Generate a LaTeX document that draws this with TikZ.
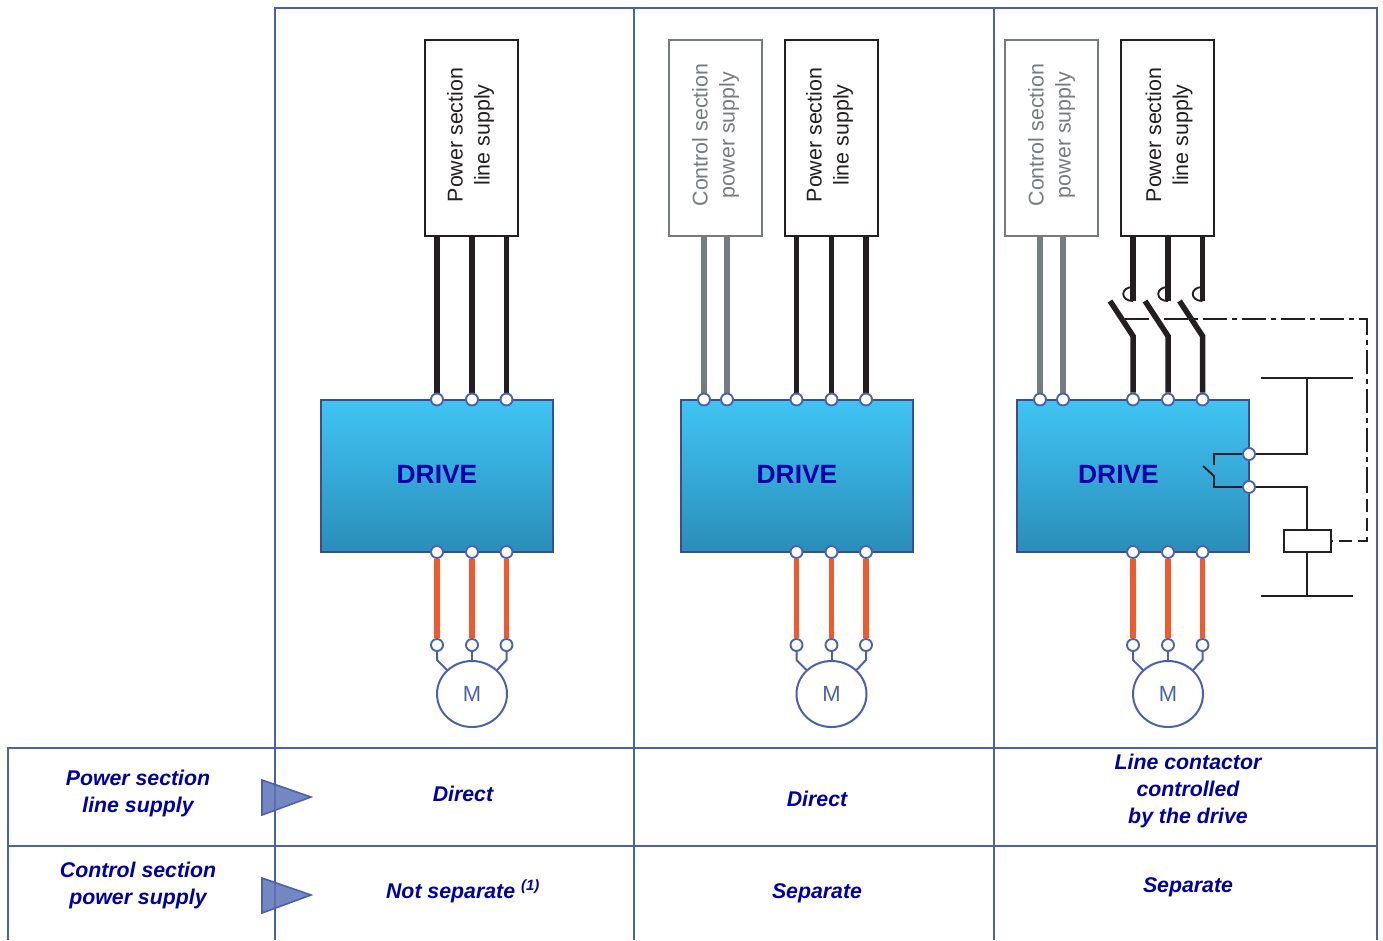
\documentclass[tikz,border=0pt]{standalone}
\usepackage{fontspec}
\setmainfont{Liberation Sans}
\usetikzlibrary{backgrounds,calc,shapes.geometric}
\definecolor{gridblue}{HTML}{4A62AE}
\definecolor{labelblue}{HTML}{0000A8}
\definecolor{wiregray}{HTML}{767C7E}
\definecolor{wireblack}{HTML}{231F20}
\definecolor{wireorange}{HTML}{F05A2E}
\definecolor{drivetop}{HTML}{40C4F4}
\definecolor{drivebottom}{HTML}{2A8EB9}
\tikzset{
	tableline/.style={draw=gridblue,line width=2.1pt},
	marker/.style={draw=gridblue,line width=1.6pt,fill=gridblue!90,fill opacity=.85},
	rowlabel/.style={text=labelblue,align=center,font=\fontsize{21.3}{27}\selectfont\bfseries\itshape},
	supplybox/.style={draw=wireblack,line width=2pt,minimum width=93,minimum height=196,inner sep=0,fill=white},
	graybox/.style={supplybox,draw=wiregray},
	supplytext/.style={rotate=90,align=center,text=wireblack,font=\fontsize{21.4}{27}\selectfont},
	graytext/.style={supplytext,text=wiregray},
	drivebox/.style={draw=gridblue!80!black,line width=2pt,minimum width=232,minimum height=152,inner sep=0,top color=drivetop,bottom color=drivebottom},
	drivetext/.style={text=labelblue,font=\fontsize{26.4}{30}\selectfont\bfseries},
	terminal/.style={circle,draw=gridblue,line width=1.9pt,fill=white,minimum size=12,inner sep=0},
	motor/.style={ellipse,draw=gridblue,line width=2pt,minimum width=70,minimum height=66,inner sep=0,text=gridblue,font=\fontsize{22}{24}\selectfont},
	blackwire/.style={draw=wireblack,line width=5.5pt},
	graywire/.style={draw=wiregray,line width=5.5pt},
	orangewire/.style={draw=wireorange,line width=5.5pt},
	motorlead/.style={draw=gridblue,line width=2pt},
	thinwire/.style={draw=wireblack,line width=1.9pt},
	coil/.style={draw=wireblack,line width=2pt,minimum width=47,minimum height=22,inner sep=0,fill=white},
}
\begin{document}
\begin{tikzpicture}[x=1pt,y=-1pt]
	\useasboundingbox (0,0) rectangle (1383,940);
	% table
	\draw[tableline] (275,940) -- (275,8) -- (1377,8) -- (1377,940);
	\draw[tableline] (634,8) -- (634,940);
	\draw[tableline] (994,8) -- (994,940);
	\draw[tableline] (8,940) -- (8,748) -- (1377,748);
	\draw[tableline] (8,846) -- (1377,846);
	\draw[marker] (262,780) -- (311,797) -- (262,815) -- cycle;
	\draw[marker] (262,878) -- (311,895) -- (262,913) -- cycle;
	\node[rowlabel] (rowpower) at (138,793) {Power section\\line supply};
	\node[rowlabel] (rowcontrol) at (138,885) {Control section\\power supply};
	\node[rowlabel] (direct1) at (463,794) {Direct};
	\node[rowlabel] (direct2) at (817,799) {Direct};
	\node[rowlabel] (contactor) at (1188,791) {Line contactor\\controlled\\by the drive};
	\node[rowlabel] (notseparate) at (463,891.5) {Not separate\,\textsuperscript{\,(1)}};
	\node[rowlabel] (separate2) at (817,893.5) {Separate};
	\node[rowlabel] (separate3) at (1188,887.5) {Separate};
	% supplies
	\node[supplybox] (supply1) at (471.5,138) {};
	\node[supplybox] (supply2) at (831.5,138) {};
	\node[supplybox] (supply3) at (1167.5,138) {};
	\node[graybox] (control2) at (715.5,138) {};
	\node[graybox] (control3) at (1051.5,138) {};
	\node[supplytext] (supplytext1) at (470.5,135) {Power section\\line supply};
	\node[supplytext] (supplytext2) at (829.5,135) {Power section\\line supply};
	\node[supplytext] (supplytext3) at (1169,135) {Power section\\line supply};
	\node[graytext] (controltext2) at (715.5,135) {Control section\\power supply};
	\node[graytext] (controltext3) at (1051.5,135) {Control section\\power supply};
	% drive, motor and wires of each column
	\foreach \c/\mx/\tx in {1/472/437,2/831.5/797,3/1168/1118.5}{
		\node[drivebox] (drive\c) at (\mx-35,476) {};
		\node[drivetext] (drivelabel\c) at (\tx,474) {DRIVE};
		\node[motor] (motor\c) at (\mx,694) {M};
		\foreach \t/\dx in {a/-35,b/0,c/34.5}{
			\node[terminal] (top\c\t) at (\mx+\dx,399.5) {};
			\node[terminal] (bottom\c\t) at (\mx+\dx,552) {};
			\node[terminal] (lead\c\t) at (\mx+\dx,645) {};
			\begin{scope}[on background layer]
				\draw[orangewire] (bottom\c\t) -- (lead\c\t);
			\end{scope}
		}
		\draw[motorlead] (lead\c b) -- (motor\c);
		\draw[motorlead] (lead\c a) -- ++(0,15) -- (\mx-25,670);
		\draw[motorlead] (lead\c c) -- ++(0,15) -- (\mx+25,670);
	}
	\foreach \c in {1,2}{
		\foreach \t in {a,b,c}{
			\begin{scope}[on background layer]
				\draw[blackwire] (supply\c.south -| top\c\t) -- (top\c\t);
			\end{scope}
		}
	}
	% control supply
	\foreach \c/\ax/\bx in {2/704/727,3/1040/1063}{
		\node[terminal] (ctrl\c a) at (\ax,399.5) {};
		\node[terminal] (ctrl\c b) at (\bx,399.5) {};
		\begin{scope}[on background layer]
			\draw[graywire] (control\c.south -| ctrl\c a) -- (ctrl\c a);
			\draw[graywire] (control\c.south -| ctrl\c b) -- (ctrl\c b);
		\end{scope}
	}
	% line contactor
	\foreach \t in {a,b,c}{
		\coordinate (fix\t) at (top3\t |- 0,301);
		\coordinate (knee\t) at (top3\t |- 0,336);
		\begin{scope}[on background layer]
			\draw[blackwire] (supply3.south -| top3\t) -- (fix\t);
			\draw[blackwire] (top3\t) -- (knee\t) -- ($(knee\t)+(-23,-35)$);
		\end{scope}
		\draw[thinwire] (fix\t) ++(0,-14) .. controls +(-13,0) and +(-13,0) .. (fix\t);
	}
	% relay
	\node[terminal] (contact1) at (1249,454) {};
	\node[terminal] (contact2) at (1249,487) {};
	\node[coil] (relay) at (1307.5,541) {};
	\coordinate (busup) at (1307,378);
	\coordinate (busdown) at (1307,596);
	\draw[thinwire] (1261,378) -- (1353,378);
	\draw[thinwire] (1261,596) -- (1353,596);
	\draw[thinwire] (contact1) -- (busup |- contact1) -- (busup);
	\draw[thinwire] (contact2) -- (busup |- contact2) -- (busup |- relay.north);
	\draw[thinwire] (busdown |- relay.south) -- (busdown);
	\draw[thinwire] (contact1) -- (1214,454) -- (1214,465);
	\draw[thinwire] (contact2) -- (1214,487) -- (1214,476) -- (1203,466);
	\draw[wireblack,line width=1.4pt,dash pattern=on 24pt off 5pt on 5pt off 5pt] (1125,319) -- (1367,319) -- (1367,480);
	\draw[wireblack,line width=1.4pt,dash pattern=on 13pt off 6pt] (1367,480) -- (1367,541) -- (relay.east);
\end{tikzpicture}
\end{document}
